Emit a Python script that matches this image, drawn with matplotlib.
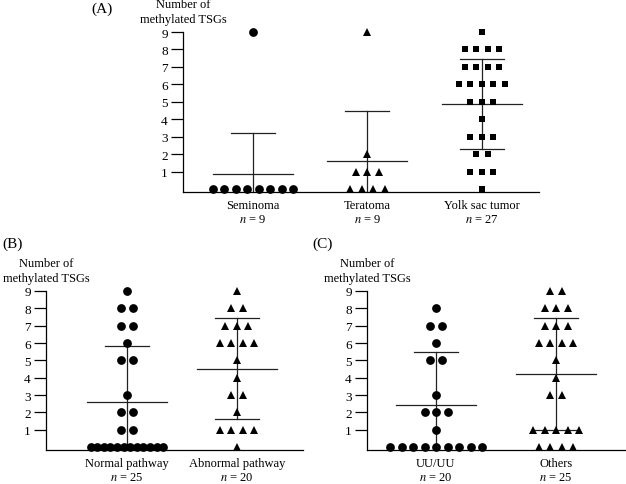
import matplotlib
matplotlib.use("Agg")
import matplotlib.pyplot as plt
import numpy as np
from collections import Counter

plt.rcParams['font.family'] = ['Liberation Serif', 'DejaVu Serif']
plt.rcParams['mathtext.fontset'] = 'stix'

# ---- data ----
# panel A
seminoma = [0, 0, 0, 0, 0, 0, 0, 0, 9]
teratoma = [0, 0, 0, 0, 1, 1, 1, 2, 9]
yolk_sac = [0, 1, 1, 1, 2, 2, 3, 3, 3, 4, 5, 5, 5, 6, 6, 6, 6, 6,
            7, 7, 7, 7, 8, 8, 8, 8, 9]
a_labels = ['Seminoma\n$n$ = 9', 'Teratoma\n$n$ = 9', 'Yolk sac tumor\n$n$ = 27']
a_mean = [0.85, 1.6, 4.85]
a_sd_hi = [3.2, 4.5, 7.45]
a_sd_lo = [None, None, 2.3]

# panel B
normal_pw = [0] * 12 + [1, 1, 2, 2, 3, 5, 5, 6, 7, 7, 8, 8, 9]
abnormal_pw = [0, 1, 1, 1, 1, 2, 3, 3, 4, 5, 6, 6, 6, 6, 7, 7, 7, 8, 8, 9]
b_labels = ['Normal pathway\n$n$ = 25', 'Abnormal pathway\n$n$ = 20']
b_mean = [2.6, 4.53]
b_sd_hi = [5.8, 7.45]
b_sd_lo = [None, 1.6]

# panel C
uu = [0] * 9 + [1, 2, 2, 2, 3, 5, 5, 6, 7, 7, 8]
others = [0] * 4 + [1] * 5 + [3, 3, 4, 5, 6, 6, 6, 6, 7, 7, 7, 8, 8, 8, 9, 9]
c_labels = ['UU/UU\n$n$ = 20', 'Others\n$n$ = 25']
c_mean = [2.42, 4.19]
c_sd_hi = [5.5, 7.45]
c_sd_lo = [None, 1.0]

W, H = 626, 485
fig = plt.figure(figsize=(W / 100, H / 100), dpi=100)


def panel(rect, groups, markers, labels, means, sd_hi, sd_lo, xlim, tag, tag_xy, xpad):
    ax = fig.add_axes([rect[0] / W, 1 - rect[3] / H,
                       (rect[2] - rect[0]) / W, (rect[3] - rect[1]) / H])
    px_per_unit = (rect[2] - rect[0]) / (xlim[1] - xlim[0])
    step = 11.5 / px_per_unit
    k_sd = 22 / px_per_unit
    k_mean = 40 / px_per_unit
    for i, (vals, mk) in enumerate(zip(groups, markers)):
        xc = i + 1
        cnt = Counter(vals)
        for v, k in cnt.items():
            s = min(step, 0.66 / max(k - 1, 1)) if k > 10 else step
            xs = xc + (np.arange(k) - (k - 1) / 2) * s
            ms = {'o': 6.3, 's': 5.0, '^': 5.8}[mk]
            ax.plot(xs, [v] * k, mk, color='black', ms=ms, mew=0,
                    clip_on=False, zorder=3)
        lo = sd_lo[i] if sd_lo[i] is not None else -0.17
        ax.plot([xc, xc], [lo, sd_hi[i]], color='#222222', lw=0.9, zorder=2)
        ax.plot([xc - k_sd, xc + k_sd], [sd_hi[i]] * 2, color='#222222', lw=0.9)
        if sd_lo[i] is not None:
            ax.plot([xc - k_sd, xc + k_sd], [sd_lo[i]] * 2, color='#222222', lw=0.9)
        ax.plot([xc - k_mean, xc + k_mean], [means[i]] * 2, color='#222222', lw=0.9)
    ax.set_xlim(*xlim)
    ax.set_ylim(-0.17, 9)
    ax.set_yticks(range(1, 10))
    ax.set_xticks(range(1, len(groups) + 1))
    ax.set_xticklabels(labels, fontsize=9, linespacing=1.2)
    ax.tick_params(axis='x', length=0, pad=xpad)
    ax.tick_params(axis='y', direction='out', length=9, width=0.9, labelsize=9.5, pad=2)
    for sp in ['top', 'right']:
        ax.spines[sp].set_visible(False)
    for sp in ['left', 'bottom']:
        ax.spines[sp].set_linewidth(0.9)
    ax.patch.set_visible(False)
    fig.text(rect[0] / W, 1 - (rect[1] - 7) / H, 'Number of\nmethylated TSGs',
             ha='center', va='bottom', fontsize=9, linespacing=1.35)
    fig.text(tag_xy[0] / W, 1 - tag_xy[1] / H, tag, ha='left', va='center', fontsize=11)
    return ax


panel((183, 33, 539, 193), [seminoma, teratoma, yolk_sac], ['o', '^', 's'],
      a_labels, a_mean, a_sd_hi, a_sd_lo, (0.39, 3.5), '(A)', (91, 9), 5)
panel((46, 292, 303, 451), [normal_pw, abnormal_pw], ['o', '^'],
      b_labels, b_mean, b_sd_hi, b_sd_lo, (0.264, 2.6), '(B)', (2, 244), 5)
panel((367, 292, 625, 451), [uu, others], ['o', '^'],
      c_labels, c_mean, c_sd_hi, c_sd_lo, (0.425, 2.575), '(C)', (312, 244), 5)

fig.savefig('out.png', dpi=100)
